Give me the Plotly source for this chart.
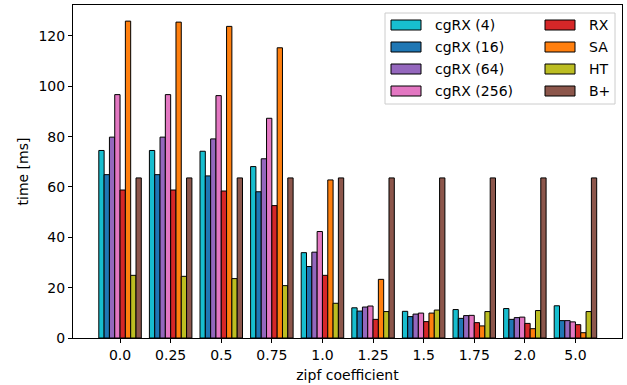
import plotly.graph_objects as go

categories = ["0.0", "0.25", "0.5", "0.75", "1.0", "1.25", "1.5", "1.75", "2.0", "5.0"]

cgrx_4 = [74.5, 74.5, 74.2, 68.1, 33.9, 12.0, 10.6, 11.3, 11.7, 12.8]
cgrx_16 = [64.9, 64.9, 64.4, 58.1, 28.4, 10.7, 8.5, 7.8, 7.4, 6.9]
cgrx_64 = [79.8, 79.8, 79.1, 71.2, 34.1, 12.3, 9.5, 8.9, 8.1, 6.9]
cgrx_256 = [96.7, 96.7, 96.3, 87.3, 42.3, 12.7, 9.9, 9.0, 8.3, 6.4]
rx = [58.8, 58.8, 58.4, 52.6, 24.9, 7.4, 6.5, 6.1, 5.8, 5.3]
sa = [125.9, 125.5, 123.8, 115.3, 62.8, 23.3, 9.9, 4.8, 3.7, 2.1]
ht = [24.9, 24.5, 23.6, 20.8, 13.8, 10.5, 11.1, 10.5, 10.9, 10.5]
bplus = [63.6, 63.6, 63.6, 63.6, 63.6, 63.6, 63.6, 63.6, 63.6, 63.6]

series_names = ["cgRX (4)", "cgRX (16)", "cgRX (64)", "cgRX (256)", "RX", "SA", "HT", "B+"]
series_values = [cgrx_4, cgrx_16, cgrx_64, cgrx_256, rx, sa, ht, bplus]
series_colors = ["#17becf", "#1f77b4", "#9467bd", "#e377c2", "#d62728", "#ff7f0e", "#bcbd22", "#8c564b"]

y_ticks = [0, 20, 40, 60, 80, 100, 120]

FONT = "DejaVu Sans"
FS = 14
W, H = 627, 385
L, R, T, B = 73, 5, 5, 47
PW, PH = W - L - R, H - T - B

fig = go.Figure()
for name, vals, col in zip(series_names, series_values, series_colors):
    fig.add_trace(go.Bar(
        x=categories, y=vals, name=name,
        marker=dict(color=col, line=dict(color="black", width=1)),
        showlegend=False,
    ))

def px_x(px):
    return (px - L) / PW

def px_y(py):
    return (H - B - py) / PH

# legend (two columns, column-major like matplotlib)
shapes = []
annotations = []
shapes.append(dict(type="rect", xref="paper", yref="paper",
                   x0=px_x(385), x1=px_x(615), y0=px_y(104), y1=px_y(13),
                   line=dict(color="#cccccc", width=1), fillcolor="rgba(255,255,255,0.8)",
                   layer="above"))
col_patch_x = [391, 545]
col_text_x = [433, 587]
row_y = [25, 47, 69, 91]
for i, (name, col) in enumerate(zip(series_names, series_colors)):
    c = i // 4
    r = i % 4
    cy = row_y[r]
    shapes.append(dict(type="rect", xref="paper", yref="paper",
                       x0=px_x(col_patch_x[c]), x1=px_x(col_patch_x[c] + 30),
                       y0=px_y(cy + 5), y1=px_y(cy - 5),
                       line=dict(color="black", width=1), fillcolor=col, layer="above"))
    annotations.append(dict(xref="paper", yref="paper", x=px_x(col_text_x[c]), y=px_y(cy),
                            text=name, showarrow=False, xanchor="left", yanchor="middle",
                            font=dict(family=FONT, size=FS, color="black")))

fig.update_layout(
    width=W, height=H,
    margin=dict(l=L, r=R, t=T, b=B, autoexpand=False),
    paper_bgcolor="white", plot_bgcolor="white",
    barmode="group", bargap=0.16, bargroupgap=0,
    font=dict(family=FONT, size=FS, color="black"),
    shapes=shapes, annotations=annotations,
    showlegend=False,
)
fig.update_xaxes(
    type="category", range=[-0.93, 9.92],
    showline=True, mirror=True, linecolor="black", linewidth=1,
    ticks="outside", ticklen=4, tickcolor="black", tickwidth=1,
    showgrid=False, zeroline=False,
    tickfont=dict(family=FONT, size=FS),
    title=dict(text="zipf coefficient", font=dict(family=FONT, size=FS), standoff=8),
    automargin=False,
)
fig.update_yaxes(
    range=[0, 132.3], tickvals=y_ticks, ticktext=[str(v) for v in y_ticks],
    showline=True, mirror=True, linecolor="black", linewidth=1,
    ticks="outside", ticklen=4, tickcolor="black", tickwidth=1,
    showgrid=False, zeroline=False,
    tickfont=dict(family=FONT, size=FS),
    title=dict(text="time [ms]", font=dict(family=FONT, size=FS), standoff=6),
    automargin=False,
)

fig.write_html("out.html", config={"displayModeBar": False},
               post_script="document.body.style.margin='0';")
